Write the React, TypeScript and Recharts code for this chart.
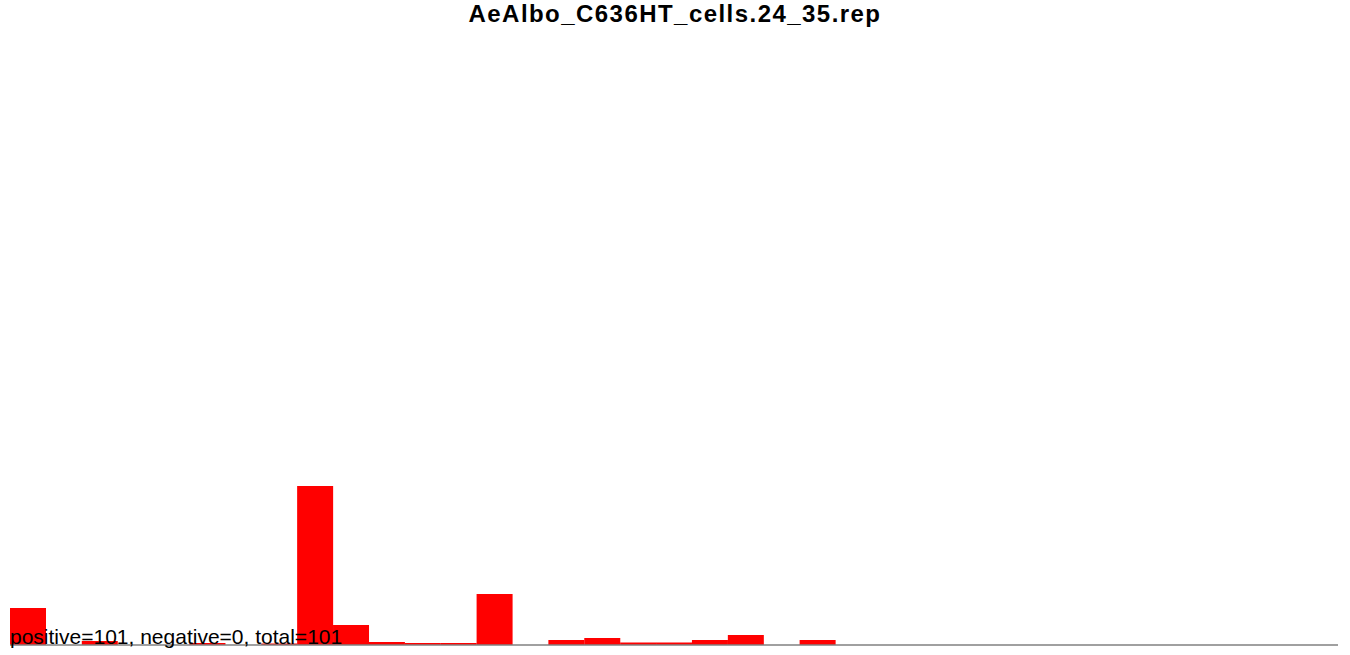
import React from "react";
import { BarChart, Bar, XAxis, YAxis, ReferenceLine } from "recharts";

const bins: string[] = Array.from({ length: 37 }, (_, i) => `b${i + 1}`);
const values: number[] = [
  37, 0, 4, 0, 0, 2, 0, 1.5, 159, 20, 3, 2, 2, 51, 0, 5, 7, 2.5, 2.5, 5, 10, 0, 5,
  0, 0, 0, 0, 0, 0, 0, 0, 0, 0, 0, 0, 0, 0,
];
const title = "AeAlbo_C636HT_cells.24_35.rep";
const footer = "positive=101, negative=0, total=101";

const data = bins.map((b, i) => ({ bin: b, value: values[i] }));

export default function App() {
  return (
    <div style={{ position: "absolute", left: 0, top: 0, width: 1350, height: 655, background: "#fff" }}>
      <BarChart
        width={1350}
        height={655}
        data={data}
        margin={{ top: 40, right: 12, bottom: 10, left: 10 }}
        barCategoryGap={0}
        barGap={0}
      >
        <XAxis dataKey="bin" hide />
        <YAxis hide domain={[0, 605]} />
        <ReferenceLine y={0} stroke="#808080" strokeWidth={1.5} />
        <Bar dataKey="value" fill="#ff0000" isAnimationActive={false} />
      </BarChart>
      <div
        style={{
          position: "absolute",
          left: 0,
          top: 0,
          width: 1350,
          textAlign: "center",
          fontFamily: "'Liberation Sans', Arial, sans-serif",
          fontWeight: "bold",
          fontSize: 24,
          letterSpacing: "1.45px",
          lineHeight: "28px",
          color: "#000",
        }}
      >
        {title}
      </div>
      <div
        style={{
          position: "absolute",
          left: 10,
          top: 624,
          fontFamily: "'Liberation Sans', Arial, sans-serif",
          fontSize: 21,
          lineHeight: "25px",
          color: "#000",
          whiteSpace: "nowrap",
        }}
      >
        {footer}
      </div>
    </div>
  );
}
